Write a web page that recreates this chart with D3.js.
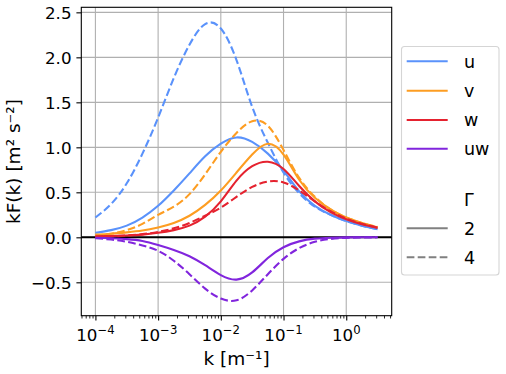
<!DOCTYPE html>
<html>
<head>
<meta charset="utf-8">
<script src="https://cdn.jsdelivr.net/npm/d3@7"></script>
<style>
  body { margin: 0; background: #fff; }
  text { font-family: "DejaVu Sans", sans-serif; fill: #000; }
</style>
</head>
<body>
<script>
// wavenumber samples, as powers of ten
const kExp = [-4, -3.75, -3.5, -3.25, -3, -2.75, -2.5, -2.25, -2, -1.75, -1.5, -1.25, -1, -0.75, -0.5, -0.25, 0, 0.25, 0.5];

// kF(k), Gamma = 2 (solid) and Gamma = 4 (dashed)
const u2  = [0.05, 0.08, 0.13, 0.22, 0.35, 0.52, 0.71, 0.90, 1.04, 1.11, 1.06, 0.93, 0.74, 0.51, 0.35, 0.25, 0.18, 0.13, 0.09];
const u4  = [0.22, 0.37, 0.60, 0.93, 1.33, 1.77, 2.14, 2.37, 2.32, 1.97, 1.45, 1.05, 0.72, 0.49, 0.34, 0.25, 0.18, 0.13, 0.09];
const v2  = [0.03, 0.04, 0.055, 0.075, 0.11, 0.16, 0.24, 0.36, 0.52, 0.72, 0.92, 1.04, 0.92, 0.64, 0.44, 0.31, 0.22, 0.16, 0.11];
const v4  = [0.02, 0.04, 0.08, 0.15, 0.25, 0.34, 0.48, 0.70, 0.95, 1.16, 1.29, 1.24, 0.97, 0.66, 0.45, 0.31, 0.22, 0.16, 0.115];
const w2  = [0.01, 0.015, 0.02, 0.03, 0.05, 0.08, 0.13, 0.23, 0.40, 0.63, 0.79, 0.84, 0.76, 0.57, 0.40, 0.28, 0.20, 0.145, 0.105];
const w4  = [0.005, 0.01, 0.02, 0.035, 0.06, 0.10, 0.16, 0.24, 0.33, 0.45, 0.56, 0.62, 0.61, 0.52, 0.40, 0.29, 0.21, 0.15, 0.11];
const uw2 = [-0.005, -0.01, -0.02, -0.04, -0.085, -0.14, -0.21, -0.31, -0.42, -0.47, -0.39, -0.23, -0.11, -0.045, -0.015, -0.005, -0.001, 0, 0];
const uw4 = [-0.01, -0.025, -0.05, -0.09, -0.15, -0.26, -0.41, -0.57, -0.68, -0.70, -0.59, -0.41, -0.24, -0.12, -0.05, -0.018, -0.006, -0.002, 0];

const components = ["u", "v", "w", "uw"];
const gammas = ["2", "4"];
const yTicks = [-0.5, 0, 0.5, 1, 1.5, 2, 2.5];
const xTickExp = [-4, -3, -2, -1, 0];

const colors = { u: "#5a92fb", v: "#fd9d22", w: "#e5222f", uw: "#8125dd" };
const dash = { "2": null, "4": "7.7,3.3" };

const series = [
  { comp: "u", gamma: "2", values: u2 },
  { comp: "u", gamma: "4", values: u4 },
  { comp: "v", gamma: "2", values: v2 },
  { comp: "v", gamma: "4", values: v4 },
  { comp: "w", gamma: "2", values: w2 },
  { comp: "w", gamma: "4", values: w4 },
  { comp: "uw", gamma: "2", values: uw2 },
  { comp: "uw", gamma: "4", values: uw4 }
];

const w = 506, h = 374;
const pLeft = 81.3, pRight = 391.7, pTop = 7.3, pBottom = 315.7;
const tickFont = 16.7, labelFont = 18.5, legendFont = 17.5;

const svg = d3.select("body").append("svg")
  .attr("width", w)
  .attr("height", h);

const x = d3.scaleLog()
  .domain([Math.pow(10, -4.225), Math.pow(10, 0.725)])
  .range([pLeft, pRight]);

const y = d3.scaleLinear()
  .domain([-0.871, 2.556])
  .range([pBottom, pTop]);

// grid
const xMajor = xTickExp.map(e => Math.pow(10, e));
svg.append("g").selectAll("line")
  .data(xMajor).enter().append("line")
  .attr("x1", d => x(d)).attr("x2", d => x(d))
  .attr("y1", pTop).attr("y2", pBottom)
  .attr("stroke", "#b0b0b0").attr("stroke-width", 1.1);
svg.append("g").selectAll("line")
  .data(yTicks).enter().append("line")
  .attr("x1", pLeft).attr("x2", pRight)
  .attr("y1", d => y(d)).attr("y2", d => y(d))
  .attr("stroke", "#b0b0b0").attr("stroke-width", 1.1);

// zero line
svg.append("line")
  .attr("x1", pLeft).attr("x2", pRight)
  .attr("y1", y(0)).attr("y2", y(0))
  .attr("stroke", "#000").attr("stroke-width", 2.1);

// curves
svg.append("clipPath").attr("id", "clip")
  .append("rect").attr("x", pLeft).attr("y", pTop)
  .attr("width", pRight - pLeft).attr("height", pBottom - pTop);

const line = d3.line()
  .x(d => x(Math.pow(10, d[0])))
  .y(d => y(d[1]))
  .curve(d3.curveNatural);

svg.append("g").attr("clip-path", "url(#clip)")
  .selectAll("path")
  .data(series).enter().append("path")
  .attr("d", s => line(kExp.map((e, i) => [e, s.values[i]])))
  .attr("fill", "none")
  .attr("stroke", s => colors[s.comp])
  .attr("stroke-width", 2.1)
  .attr("stroke-dasharray", s => dash[s.gamma]);

// x axis: major and minor ticks
let minor = [];
for (let e = -5; e <= 0; e++) {
  for (let m = 2; m <= 9; m++) minor.push(m * Math.pow(10, e));
}
minor = minor.filter(v => v >= x.domain()[0] && v <= x.domain()[1]);

const xAxis = svg.append("g")
  .attr("transform", `translate(0, ${pBottom})`)
  .call(d3.axisBottom(x).tickValues(xMajor).tickSize(4.9).tickFormat(""));
xAxis.select(".domain").remove();
xAxis.selectAll(".tick line").attr("stroke-width", 1.1);

const xMinor = svg.append("g")
  .attr("transform", `translate(0, ${pBottom})`)
  .call(d3.axisBottom(x).tickValues(minor).tickSize(2.8).tickFormat(""));
xMinor.select(".domain").remove();
xMinor.selectAll(".tick line").attr("stroke-width", 0.85);

const xLabels = svg.append("g").selectAll("text")
  .data(xTickExp).enter().append("text")
  .attr("x", d => x(Math.pow(10, d)))
  .attr("y", 340.5)
  .attr("text-anchor", "middle")
  .style("font-size", tickFont + "px");
xLabels.append("tspan").text("10");
xLabels.append("tspan")
  .attr("dy", -7)
  .style("font-size", (tickFont * 0.7) + "px")
  .text(d => d < 0 ? "\u2212" + Math.abs(d) : String(d));

// y axis
const yAxis = svg.append("g")
  .attr("transform", `translate(${pLeft}, 0)`)
  .call(d3.axisLeft(y).tickValues(yTicks).tickSize(4.9).tickPadding(4.9)
    .tickFormat(d => (d < 0 ? "\u2212" : "") + Math.abs(d).toFixed(1)));
yAxis.select(".domain").remove();
yAxis.selectAll(".tick line").attr("stroke-width", 1.1);
yAxis.selectAll(".tick text")
  .attr("dy", null)
  .attr("y", tickFont * 0.365)
  .style("font-size", tickFont + "px")
  .style("font-family", "DejaVu Sans");

// frame
svg.append("rect")
  .attr("x", pLeft).attr("y", pTop)
  .attr("width", pRight - pLeft).attr("height", pBottom - pTop)
  .attr("fill", "none").attr("stroke", "#000").attr("stroke-width", 1.1);

// axis labels
svg.append("text")
  .attr("x", (pLeft + pRight) / 2)
  .attr("y", 365)
  .attr("text-anchor", "middle")
  .style("font-size", labelFont + "px")
  .text("k [m\u207B\u00B9]");

svg.append("text")
  .attr("transform", `translate(19.5, ${(pTop + pBottom) / 2}) rotate(-90)`)
  .attr("text-anchor", "middle")
  .style("font-size", labelFont + "px")
  .text("kF(k) [m\u00B2 s\u207B\u00B2]");

// legend
const legendRows = [
  { label: "u", color: colors.u, dash: null, y: 61.3 },
  { label: "v", color: colors.v, dash: null, y: 90.7 },
  { label: "w", color: colors.w, dash: null, y: 120 },
  { label: "uw", color: colors.uw, dash: null, y: 148.7 },
  { label: "\u0393", color: null, dash: null, y: 199.5 },
  { label: gammas[0], color: "#808080", dash: dash["2"], y: 228.3 },
  { label: gammas[1], color: "#808080", dash: dash["4"], y: 257.3 }
];

const legend = svg.append("g").attr("id", "legend");
legend.append("rect")
  .attr("x", 401.5).attr("y", 46.5)
  .attr("width", 97.5).attr("height", 228.5)
  .attr("rx", 3)
  .attr("fill", "#fff").attr("fill-opacity", 0.8)
  .attr("stroke", "#d5d5d5").attr("stroke-width", 1.1);

const entry = legend.selectAll("g.entry")
  .data(legendRows).enter().append("g")
  .attr("class", "entry");

entry.filter(d => d.color)
  .append("line")
  .attr("x1", 406.7).attr("x2", 447.7)
  .attr("y1", d => d.y).attr("y2", d => d.y)
  .attr("stroke", d => d.color)
  .attr("stroke-width", 2.1)
  .attr("stroke-dasharray", d => d.dash);

entry.append("text")
  .attr("x", 464)
  .attr("y", d => d.y + legendFont * 0.365)
  .style("font-size", legendFont + "px")
  .text(d => d.label);
</script>
</body>
</html>
